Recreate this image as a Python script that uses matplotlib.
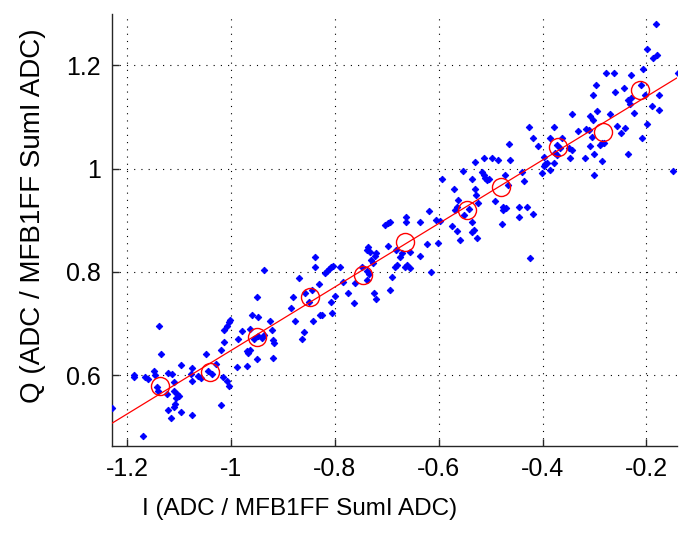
import matplotlib
matplotlib.use("Agg")
import matplotlib.pyplot as plt
import numpy as np

plt.rcParams['font.family'] = ['Liberation Sans', 'DejaVu Sans']
plt.rcParams['axes.unicode_minus'] = False

# Measured samples: I and Q, both normalised by MFB1FF SumI ADC
i_vals = [
    -1.230, -1.170, -1.138, -1.135, -1.188, -1.187, -1.166, -1.161, -1.149, -1.147,
    -1.121, -1.113, -1.097, -1.075, -1.110, -1.143, -1.140, -1.124, -1.111, -1.105,
    -1.100, -1.106, -1.108, -1.111, -1.121, -1.097, -1.116, -1.075, -1.077, -1.076,
    -1.064, -1.058, -1.048, -1.044, -1.037, -1.029, -1.019, -1.015, -1.008, -1.005,
    -1.019, -1.013, -1.013, -1.008, -1.004, -1.002, -0.988, -0.986,
    -0.936, -0.869, -0.951, -0.880, -0.885, -0.858, -0.850, -0.960, -0.948, -0.925,
    -0.922, -0.877, -0.859, -0.863, -0.964, -0.980, -0.956, -0.948, -0.940, -0.936,
    -0.919, -0.917, -0.970, -0.967, -0.964, -0.951, -0.970, -0.919,
    -0.838, -0.838, -0.830, -0.819, -0.815, -0.811, -0.808, -0.804, -0.790, -0.784,
    -0.844, -0.800, -0.774, -0.761, -0.808, -0.763, -0.739, -0.734, -0.738, -0.736,
    -0.738, -0.732, -0.721, -0.723, -0.731, -0.727, -0.748, -0.725, -0.721, -0.694,
    -0.691, -0.684, -0.680, -0.675, -0.665, -0.662, -0.671, -0.697, -0.682, -0.703,
    -0.698, -0.694, -0.663, -0.663, -0.637, -0.655, -0.637, -0.655, -0.842, -0.829,
    -0.824, -0.806,
    -0.427, -0.464, -0.530, -0.513, -0.498, -0.485, -0.463, -0.554, -0.517, -0.513,
    -0.511, -0.507, -0.504, -0.536, -0.594, -0.472, -0.440, -0.436, -0.466, -0.530,
    -0.528, -0.571, -0.492, -0.562, -0.569, -0.564, -0.551, -0.541, -0.524, -0.476,
    -0.470, -0.477, -0.445, -0.430, -0.445, -0.618, -0.605, -0.597, -0.575, -0.565,
    -0.536, -0.536, -0.533, -0.479, -0.560, -0.526, -0.622, -0.601, -0.425, -0.615,
    -0.181, -0.198, -0.179, -0.188, -0.206, -0.140, -0.278, -0.262, -0.230, -0.297,
    -0.303, -0.243, -0.260, -0.211, -0.202, -0.230, -0.235, -0.231, -0.175, -0.190,
    -0.175, -0.224, -0.296, -0.308, -0.303, -0.270, -0.344, -0.378, -0.331, -0.316,
    -0.310, -0.257, -0.241, -0.249, -0.199, -0.209, -0.305, -0.286, -0.289, -0.281,
    -0.419, -0.408, -0.386, -0.363, -0.373, -0.366, -0.350, -0.344, -0.308, -0.398,
    -0.376, -0.373, -0.347, -0.318, -0.301, -0.395, -0.392, -0.398, -0.378, -0.386,
    -0.402, -0.286, -0.236, -0.148, -0.301, -0.419,
]
q_vals = [
    0.537, 0.483, 0.695, 0.641, 0.601, 0.596, 0.596, 0.593, 0.608, 0.601,
    0.605, 0.603, 0.619, 0.613, 0.586, 0.577, 0.570, 0.564, 0.570, 0.564,
    0.559, 0.555, 0.544, 0.538, 0.533, 0.528, 0.518, 0.523, 0.603, 0.588,
    0.599, 0.594, 0.641, 0.608, 0.603, 0.621, 0.648, 0.596, 0.588, 0.579,
    0.543, 0.665, 0.688, 0.696, 0.702, 0.706, 0.615, 0.670,
    0.804, 0.788, 0.752, 0.752, 0.730, 0.759, 0.741, 0.717, 0.713, 0.704,
    0.688, 0.704, 0.684, 0.670, 0.689, 0.686, 0.670, 0.675, 0.672, 0.678,
    0.668, 0.662, 0.646, 0.643, 0.648, 0.631, 0.618, 0.633,
    0.828, 0.810, 0.777, 0.797, 0.802, 0.806, 0.810, 0.812, 0.809, 0.781,
    0.764, 0.753, 0.759, 0.778, 0.741, 0.739, 0.801, 0.796, 0.784, 0.848,
    0.843, 0.839, 0.837, 0.831, 0.823, 0.818, 0.810, 0.759, 0.747, 0.764,
    0.791, 0.810, 0.813, 0.828, 0.810, 0.813, 0.836, 0.850, 0.843, 0.891,
    0.894, 0.897, 0.907, 0.897, 0.897, 0.839, 0.831, 0.807, 0.704, 0.717,
    0.717, 0.720,
    1.081, 1.048, 1.013, 1.020, 1.020, 1.017, 1.017, 0.995, 0.994, 0.988,
    0.981, 0.977, 0.979, 0.979, 0.979, 0.988, 0.994, 0.975, 0.968, 0.960,
    0.949, 0.960, 0.938, 0.939, 0.920, 0.925, 0.910, 0.921, 0.933, 0.926,
    0.923, 0.920, 0.925, 0.925, 0.906, 0.917, 0.901, 0.899, 0.888, 0.880,
    0.897, 0.878, 0.881, 0.893, 0.862, 0.865, 0.854, 0.855, 0.826, 0.799,
    1.280, 1.231, 1.220, 1.214, 1.192, 1.184, 1.184, 1.184, 1.181, 1.162,
    1.142, 1.155, 1.149, 1.162, 1.142, 1.136, 1.133, 1.125, 1.142, 1.121,
    1.113, 1.107, 1.112, 1.102, 1.094, 1.106, 1.105, 1.080, 1.073, 1.076,
    1.075, 1.082, 1.078, 1.068, 1.086, 1.059, 1.061, 1.050, 1.046, 1.049,
    1.059, 1.044, 1.059, 1.059, 1.046, 1.039, 1.039, 1.036, 1.044, 1.023,
    1.030, 1.026, 1.020, 1.021, 1.028, 1.009, 1.011, 1.005, 1.011, 0.997,
    0.992, 1.015, 1.028, 0.996, 0.988, 0.912,
]

# Binned averages
bin_i = [-1.137, -1.041, -0.951, -0.848, -0.745, -0.665, -0.545, -0.481, -0.370, -0.284, -0.213]
bin_q = [0.579, 0.607, 0.674, 0.752, 0.794, 0.857, 0.920, 0.965, 1.042, 1.071, 1.152]

# Linear fit Q = slope * I + offset
fit_slope = 0.614
fit_offset = 1.262

x_ticks = [-1.2, -1.0, -0.8, -0.6, -0.4, -0.2]
x_tick_labels = ['-1.2', '-1', '-0.8', '-0.6', '-0.4', '-0.2']
y_ticks = [0.6, 0.8, 1.0, 1.2]
y_tick_labels = ['0.6', '0.8', '1', '1.2']
x_limits = (-1.2295, -0.141)
y_limits = (0.463, 1.299)

fig = plt.figure(figsize=(6.83, 5.34), dpi=100)
ax = fig.add_axes([112 / 683, 1 - 446 / 534, 565 / 683, 432 / 534])

ax.plot(i_vals, q_vals, linestyle='none', marker='D', markersize=3.3,
        markerfacecolor='#0000ff', markeredgecolor='#0000ff',
        markeredgewidth=0.7, zorder=3)

fit_x = np.array(x_limits)
ax.plot(fit_x, fit_slope * fit_x + fit_offset, color='#ff0000', linewidth=0.9, zorder=4)
ax.plot(bin_i, bin_q, linestyle='none', marker='o', markersize=13,
        markerfacecolor='none', markeredgecolor='#ff0000', markeredgewidth=1.0, zorder=5)

ax.set_xlim(*x_limits)
ax.set_ylim(*y_limits)
ax.set_xticks(x_ticks)
ax.set_xticklabels(x_tick_labels)
ax.set_yticks(y_ticks)
ax.set_yticklabels(y_tick_labels)

ax.grid(True, color='black', linestyle=(0, (1, 5.5)), linewidth=0.8)
ax.set_axisbelow(True)

for side in ('top', 'right'):
    ax.spines[side].set_visible(False)
for side in ('left', 'bottom'):
    ax.spines[side].set_color('#262626')
    ax.spines[side].set_linewidth(1.0)

ax.tick_params(axis='both', direction='in', length=5, width=1.0, color='#262626',
               labelsize=18, labelcolor='black')
ax.tick_params(axis='x', pad=8)
ax.tick_params(axis='y', pad=8)

fig.text(300 / 683, 1 - 509 / 534, 'I (ADC / MFB1FF SumI ADC)',
         ha='center', va='center', fontsize=17.5)
fig.text(33 / 683, 1 - 216 / 534, 'Q (ADC / MFB1FF SumI ADC)',
         ha='center', va='center', rotation=90, fontsize=20)

fig.savefig('out.png', dpi=100)
